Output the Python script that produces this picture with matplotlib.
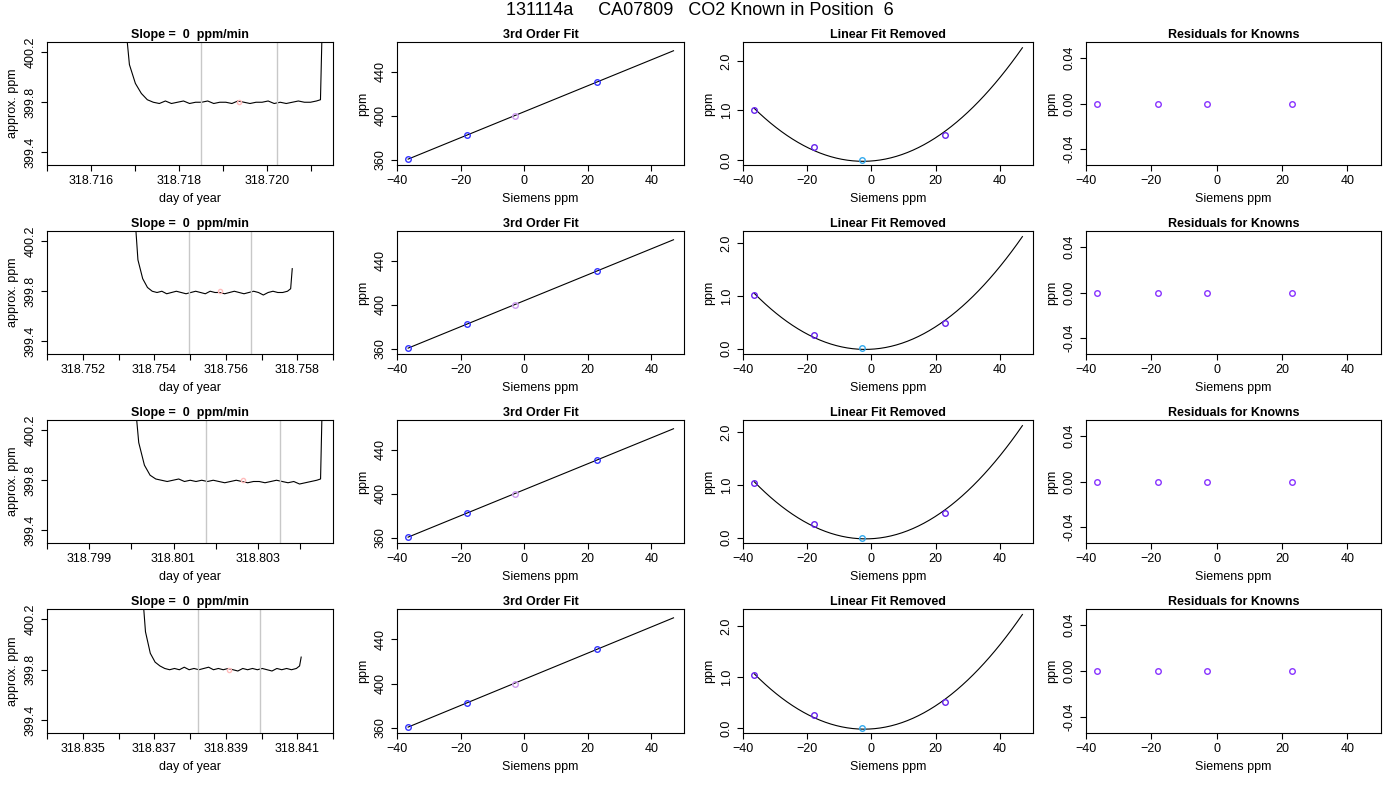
import matplotlib.pyplot as plt
import numpy as np

plt.rcParams['font.family'] = ['Liberation Sans', 'DejaVu Sans']
plt.rcParams['font.size'] = 9

title = "131114a     CA07809   CO2 Known in Position  6"

# per-row day-of-year windows: axis limits, trace start/end, the two grey marks
xlims = [(318.71516, 318.72151), (318.75160, 318.75800), (318.79842, 318.80478), (318.83482, 318.84125)]
trace_start = [318.71674, 318.75341, 318.80004, 318.83662]
trace_end = [318.72127, 318.75786, 318.80453, 318.84111]
grey_marks = [(318.71851, 318.72024), (318.75498, 318.75672), (318.80178, 318.80353), (318.83821, 318.83997)]
xtick_sets = [[318.716, 318.718, 318.720], [318.752, 318.754, 318.756, 318.758],
              [318.799, 318.801, 318.803], [318.835, 318.837, 318.839, 318.841]]

# approx ppm trace
traces = [
    [400.6, 400.1, 399.95, 399.87, 399.82, 399.80, 399.79, 399.81, 399.79, 399.80, 399.81, 399.79, 399.80,
     399.80, 399.81, 399.79, 399.80, 399.80, 399.79, 399.81, 399.80, 399.79, 399.80, 399.80, 399.81,
     399.79, 399.80, 399.79, 399.80, 399.81, 399.80, 399.80, 399.81, 399.82, 400.5],
    [400.6, 400.05, 399.9, 399.83, 399.80, 399.79, 399.80, 399.78, 399.79, 399.80, 399.79, 399.78, 399.79,
     399.80, 399.79, 399.78, 399.80, 399.79, 399.79, 399.78, 399.79, 399.80, 399.79, 399.78, 399.79,
     399.80, 399.79, 399.77, 399.79, 399.80, 399.79, 399.79, 399.80, 399.82, 399.98],
    [400.6, 400.1, 399.92, 399.84, 399.81, 399.80, 399.79, 399.80, 399.81, 399.79, 399.80, 399.79, 399.80,
     399.79, 399.80, 399.79, 399.78, 399.79, 399.80, 399.79, 399.78, 399.79, 399.79, 399.78, 399.79,
     399.80, 399.79, 399.78, 399.79, 399.77, 399.78, 399.79, 399.80, 399.81, 400.5],
    [400.6, 400.1, 399.93, 399.86, 399.83, 399.81, 399.80, 399.81, 399.80, 399.82, 399.80, 399.81, 399.80,
     399.81, 399.82, 399.80, 399.81, 399.80, 399.81, 399.80, 399.79, 399.81, 399.80, 399.81, 399.80,
     399.81, 399.80, 399.79, 399.81, 399.80, 399.81, 399.80, 399.81, 399.83, 399.90],
]
trace_time = np.array([0.0, 0.03, 0.06, 0.09, 0.12] + list(np.linspace(0.15, 0.97, 28)) + [0.99, 1.0])

siemens = [-36.5, -18.0, -3.0, 23.0]
known = [361.0, 382.5, 400.0, 431.0]
lin_removed = [[1.00, 0.26, 0.00, 0.50], [1.02, 0.26, 0.01, 0.48],
               [1.03, 0.26, 0.00, 0.47], [1.03, 0.25, 0.00, 0.50]]
curve_end = [2.30, 2.15, 2.15, 2.25]
residuals = [0.0, 0.0, 0.0, 0.0]
pt_cols = ['#3333ff', '#3333ff', '#cc99ee', '#3333ff']
lr_cols = ['#6622ee', '#6622ee', '#33aaee', '#6622ee']

fig = plt.figure(figsize=(14, 8), dpi=100)
fig.text(0.5, 0.997, title, ha='center', va='top', fontsize=13)

cols_px = [(47, 333), (397, 684), (743, 1033), (1086, 1381)]
rows_px = [(42, 165), (231, 354), (420, 543), (609, 733)]

def style(ax):
    ax.tick_params(direction='out', length=4, labelsize=9)
    for lab in ax.get_yticklabels():
        lab.set_rotation(90)
        lab.set_va('center')

for r in range(4):
    y0, y1 = rows_px[r]
    axs = []
    for c in range(4):
        x0, x1 = cols_px[c]
        axs.append(fig.add_axes([x0 / 1400, 1 - y1 / 800, (x1 - x0) / 1400, (y1 - y0) / 800]))
    a, b, cc, d = axs

    # time trace
    t = trace_start[r] + trace_time * (trace_end[r] - trace_start[r])
    a.plot(t, traces[r], color='black', lw=0.8)
    for g in grey_marks[r]:
        a.axvline(g, color='#c8c8c8', lw=1)
    a.plot([(grey_marks[r][0] + grey_marks[r][1]) / 2], [399.80], 'o', mfc='none', mec='#ffbbbb', ms=3)
    a.set_xlim(*xlims[r])
    a.set_ylim(399.30, 400.28)
    ticks = xtick_sets[r]
    allt = sorted(set(round(v, 3) for v in ticks + [v + 0.001 for v in ticks] + [ticks[0] - 0.001]))
    a.set_xticks(allt)
    a.set_xticklabels([f'{v:.3f}' if any(abs(v - k) < 1e-7 for k in ticks) else '' for v in allt])
    a.set_yticks([399.4, 399.8, 400.2])
    a.set_title('Slope =  0  ppm/min', fontsize=9, fontweight='bold', pad=3)
    a.set_xlabel('day of year')
    a.set_ylabel('approx. ppm')
    style(a)

    # 3rd order fit
    coef = np.polyfit(siemens, known, 1)
    xx = np.linspace(siemens[0], 47, 50)
    b.plot(xx, np.polyval(coef, xx), color='black', lw=0.8)
    for x, y, col in zip(siemens, known, pt_cols):
        b.plot(x, y, 'o', mfc='none', mec=col, ms=4, mew=1)
    b.set_xlim(-39.84, 50.3)
    b.set_ylim(355.5, 467)
    b.set_yticks([360, 400, 440])
    b.set_xticks([-40, -20, 0, 20, 40])
    b.set_title('3rd Order Fit', fontsize=9, fontweight='bold', pad=3)
    b.set_xlabel('Siemens ppm')
    b.set_ylabel('ppm')
    style(b)

    # linear fit removed
    qx = siemens + [47.0]
    qy = lin_removed[r] + [curve_end[r]]
    q = np.polyfit(qx, qy, 2)
    cc.plot(xx, np.polyval(q, xx), color='black', lw=0.8)
    for x, y, col in zip(siemens, lin_removed[r], lr_cols):
        cc.plot(x, y, 'o', mfc='none', mec=col, ms=4, mew=1)
    cc.set_xlim(-39.84, 50.3)
    cc.set_ylim(-0.1, curve_end[r] + 0.08)
    cc.set_yticks([0.0, 1.0, 2.0])
    cc.set_yticklabels(['0.0', '1.0', '2.0'])
    cc.set_xticks([-40, -20, 0, 20, 40])
    cc.set_title('Linear Fit Removed', fontsize=9, fontweight='bold', pad=3)
    cc.set_xlabel('Siemens ppm')
    cc.set_ylabel('ppm')
    style(cc)

    # residuals
    d.plot(siemens, residuals, 'o', mfc='none', mec='#8833ff', ms=4, mew=1, ls='none')
    d.set_xlim(-39.84, 50.3)
    d.set_ylim(-0.054, 0.054)
    d.set_yticks([-0.04, 0.0, 0.04])
    d.set_yticklabels(['-0.04', '0.00', '0.04'])
    d.set_xticks([-40, -20, 0, 20, 40])
    d.set_title('Residuals for Knowns', fontsize=9, fontweight='bold', pad=3)
    d.set_xlabel('Siemens ppm')
    d.set_ylabel('ppm')
    style(d)

fig.savefig('out.png', dpi=100)
